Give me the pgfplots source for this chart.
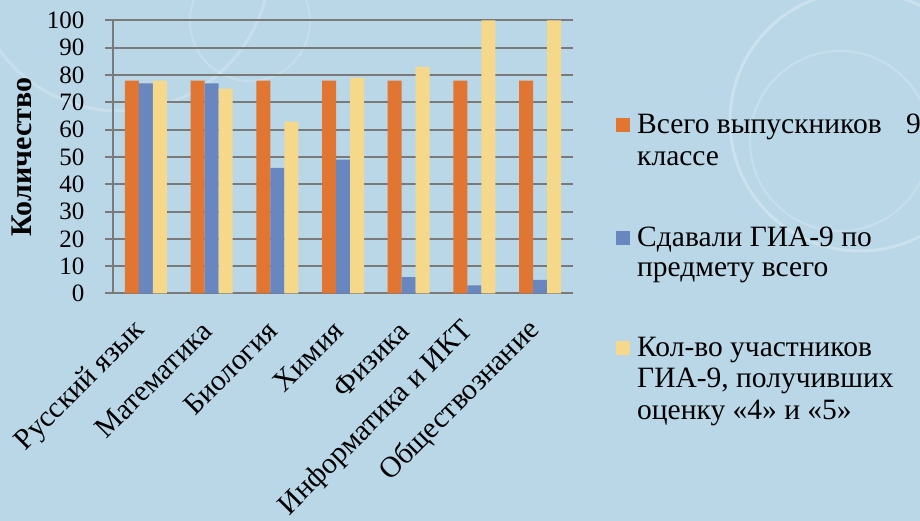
\documentclass[border=0pt]{standalone}
\usepackage{fontspec}
\setmainfont{Liberation Serif}
\usepackage{pgfplots}
\pgfplotsset{compat=1.18}
\definecolor{bg}{HTML}{BAD7E8}
\definecolor{cOr}{HTML}{E07632}
\definecolor{cBl}{HTML}{6886C0}
\definecolor{cYe}{HTML}{F6D88A}
\definecolor{gridg}{HTML}{7A7A7A}
\begin{document}
\begin{tikzpicture}[x=1pt,y=1pt]
\useasboundingbox (0,0) rectangle (920,521);
\fill[bg] (0,0) rectangle (920,521);
\begin{scope}
\clip (0,0) rectangle (920,521);
\draw[white,opacity=0.25,line width=3pt] (860,400) circle (130);
\draw[white,opacity=0.2,line width=2pt] (840,380) circle (90);
\draw[white,opacity=0.2,line width=3pt] (120,560) circle (150);
\draw[white,opacity=0.18,line width=2pt] (250,500) circle (60);
\end{scope}
\begin{axis}[
  at={(113pt,227.5pt)}, anchor=south west,
  scale only axis, width=460pt, height=273pt,
  xmin=-0.5, xmax=6.5, ymin=0, ymax=100,
  ybar=0pt, bar width=14pt,
  xtick=data,
  xticklabels={Русский язык,Математика,Биология,Химия,Физика,Информатика и ИКТ,Обществознание},
  ytick={0,10,...,100},
  ymajorgrids,
  grid style={line width=2pt, draw=gridg},
  axis x line*=bottom, axis y line*=left,
  axis line style={line width=2pt, draw=gridg},
  x tick style={draw=none},
  y tick style={line width=2pt, draw=gridg},
  tick align=outside, major tick length=8pt,
  /pgf/number format/assume math mode=true,
  yticklabel style={font=\fontsize{25}{29}\selectfont, xshift=-17pt},
  xticklabel style={font=\fontsize{29.5}{33}\selectfont, rotate=45, anchor=east, xshift=-17.5pt, yshift=-14pt},
  ylabel={\bfseries Количество},
  ylabel style={font=\fontsize{30}{34}\selectfont, at={(axis description cs:-0.198,0.5)}, anchor=center},
  clip=false,
]
\addplot[fill=cOr, draw=none] coordinates {(0,78) (1,78) (2,78) (3,78) (4,78) (5,78) (6,78)};
\addplot[fill=cBl, draw=none] coordinates {(0,77) (1,77) (2,46) (3,49) (4,6) (5,3) (6,5)};
\addplot[fill=cYe, draw=none] coordinates {(0,78) (1,75) (2,63) (3,79) (4,83) (5,100) (6,100)};
\end{axis}
\begin{scope}[every node/.style={anchor=base west, inner sep=0pt, font=\fontsize{29.5}{33}\selectfont}]
\fill[cOr] (616,389) rectangle (630,403);
\node at (637,387) {Всего выпускников};
\node at (906,387) {9};
\node at (637,355) {классе};
\fill[cBl] (616,276) rectangle (630,290);
\node at (637,274) {Сдавали ГИА-9 по};
\node at (637,244) {предмету всего};
\fill[cYe] (616,166) rectangle (630,180);
\node at (637,164) {Кол-во участников};
\node at (637,133) {ГИА-9, получивших};
\node at (637,101) {оценку «4» и «5»};
\end{scope}
\end{tikzpicture}
\end{document}
